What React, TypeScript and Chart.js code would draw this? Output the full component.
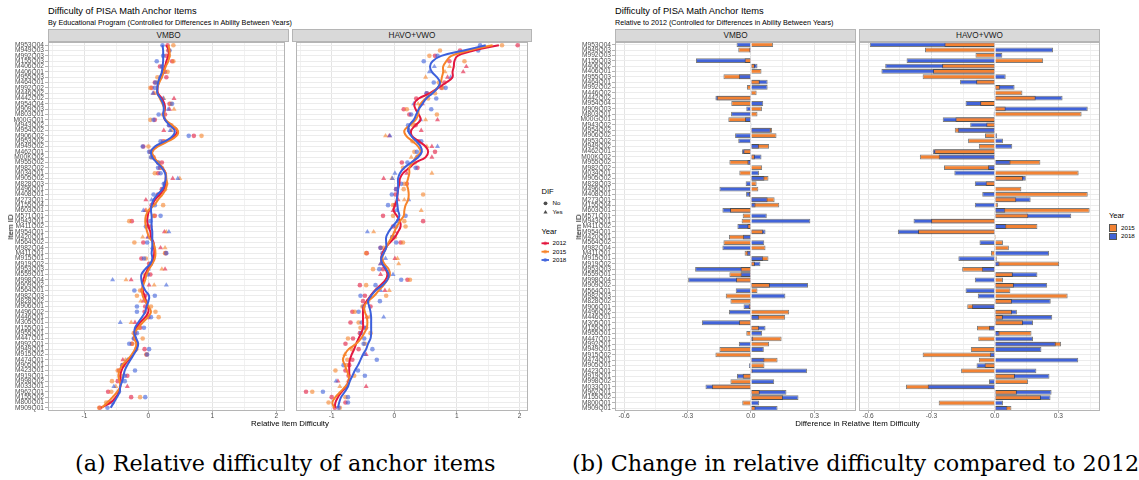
import React, { useEffect, useRef } from "react";
import { Chart, registerables } from "chart.js";
Chart.register(...registerables);

const items = [
  "M953Q04","M949Q03","M992Q03","M155Q03","M406Q02","M406Q01","M955Q03","M464Q01","M992Q02","M446Q02",
  "M442Q02","M954Q04","M909Q03","M803Q01","M00GQ01","M943Q02","M954Q02","M906Q02","M953Q02","M949Q02",
  "M462Q01","M00KQ02","M955Q02","M982Q02","M034Q01","M905Q02","M828Q03","M496Q01","M408Q01","M273Q01",
  "M155Q04","M603Q01","M571Q01","M943Q01","M411Q02","M954Q01","M420Q01","M564Q02","M982Q04","M411Q01",
  "M915Q01","M919Q02","M953Q03","M559Q01","M998Q04","M909Q02","M564Q01","M982Q03","M828Q02","M906Q01",
  "M496Q02","M446Q01","M305Q01","M155Q01","M955Q01","M447Q01","M992Q01","M949Q01","M915Q02","M474Q01",
  "M905Q01","M423Q01","M919Q01","M998Q02","M033Q01","M962Q01","M155Q02","M800Q01","M909Q01"
];

// ---- Figure (a): smoothed relative difficulty (lines) ----
const vmboLine2012 = [.28,.32,.31,.28,.26,.23,.19,.16,.14,.15, .21,.25,.26,.24,.26,.36,.45,.41,.28,.13, .05,.08,.14,.22,.27,.27,.27,.24,.18,.10, .06,.01,-.01,-.02,.00,.03,.04,.08,.09,.09, .08,.05,-.01,-.05,-.08,-.09,-.09,-.06,-.04,-.01, .00,-.05,-.13,-.19,-.22,-.21,-.18,-.19,-.24,-.31, -.38,-.42,-.44,-.43,-.44,-.46,-.51,-.59,-.74];
const vmboLine2015 = [.31,.33,.33,.31,.27,.24,.21,.17,.14,.14, .18,.22,.25,.24,.27,.37,.46,.44,.31,.15, .06,.09,.15,.22,.27,.28,.29,.27,.22,.15, .09,.00,-.04,-.05,-.04,-.02,.01,.07,.10,.11, .10,.06,.01,-.03,-.05,-.08,-.10,-.09,-.05,.00, .04,-.01,-.09,-.16,-.22,-.22,-.19,-.21,-.26,-.33, -.41,-.45,-.47,-.45,-.44,-.49,-.56,-.64,-.73];
const vmboLine2018 = [.22,.23,.23,.23,.22,.21,.18,.15,.14,.14, .19,.23,.24,.23,.26,.33,.41,.38,.26,.10, .04,.06,.13,.21,.26,.27,.25,.22,.14,.08, .05,.04,.05,.05,.05,.06,.06,.06,.06,.05, .06,.03,-.05,-.11,-.11,-.09,-.05,.01,.00,-.03, -.05,-.10,-.16,-.21,-.22,-.19,-.16,-.18,-.23,-.28, -.33,-.37,-.39,-.41,-.44,-.45,-.49,-.54,-.59];

const havoLine2012 = [1.67,1.27,1.01,.96,.95,.93,.93,.83,.70,.57, .39,.32,.34,.39,.42,.34,.27,.28,.39,.50, .54,.50,.34,.24,.14,.09,.08,.06,.05,.04, .01,-.01,.04,.09,.10,.06,.01,-.07,-.14,-.19, -.21,-.19,-.14,-.11,-.14,-.22,-.31,-.38,-.44,-.49, -.50,-.50,-.50,-.50,-.53,-.57,-.61,-.64,-.68,-.71, -.72,-.72,-.72,-.73,-.77,-.84,-.90,-.94,-.95];
const havoLine2015 = [1.57,1.19,.91,.83,.78,.78,.76,.74,.69,.60, .50,.42,.39,.38,.34,.25,.16,.19,.29,.38, .42,.35,.29,.24,.24,.22,.20,.22,.23,.22, .18,.16,.15,.09,.04,.00,-.04,-.09,-.13,-.17, -.19,-.16,-.09,-.07,-.11,-.17,-.25,-.32,-.42,-.48, -.47,-.44,-.43,-.44,-.48,-.53,-.61,-.73,-.79,-.82, -.79,-.76,-.73,-.72,-.78,-.86,-.94,-.99,-.96];
const havoLine2018 = [1.46,1.11,.75,.61,.57,.60,.68,.73,.69,.61, .51,.45,.39,.35,.31,.24,.22,.27,.35,.42, .44,.38,.27,.16,.09,.06,.06,.06,.05,.04, .05,.06,.08,.04,-.03,-.09,-.13,-.13,-.13,-.17, -.21,-.19,-.13,-.09,-.11,-.19,-.30,-.37,-.42,-.40, -.38,-.37,-.37,-.37,-.37,-.38,-.42,-.45,-.50,-.54, -.58,-.63,-.67,-.71,-.74,-.79,-.85,-.88,-.90];

// ---- Figure (a): item estimates (points) ----
const vmboPts2012 = [.30,.31,.28,.37,.18,.26,.28,.10,.05,.08, .40,.33,.33,.26,.10,.33,.24,.71,.23,-.08, .03,.08,.21,.18,.15,.38,.26,.21,.15,-.04, .05,-.05,.10,-.26,.03,.25,-.01,-.08,.19,.27, -.11,.01,.26,.03,-.27,.01,-.10,-.05,-.08,-.05, -.06,.00,-.21,-.13,-.21,-.22,-.26,-.06,-.03,-.40, -.40,-.46,-.33,-.48,-.33,-.63,-.27,-.62,-.76];
const vmboPts2015 = [.39,.32,.32,.39,.23,.30,.14,.14,.03,.10, .24,.35,.40,.23,.03,.36,.36,.83,.26,.00, .04,.05,.15,.21,.10,.49,.28,.26,.19,.10, .23,-.03,.08,-.30,-.01,.28,-.09,-.22,.26,.26, -.04,.03,.21,-.05,-.35,.09,-.13,-.18,-.12,.04, .11,.16,-.27,-.15,-.23,-.09,-.25,-.19,-.03,-.36, -.37,-.48,-.42,-.57,-.51,-.58,-.13,-.66,-.77];
const vmboPts2018 = [.22,.33,.23,.13,.21,.23,.19,.11,.10,.07, .23,.37,.31,.16,.08,.32,.34,.63,.19,-.09, .01,.04,.15,.15,.19,.46,.24,.23,.08,.05, .10,-.08,.19,.03,-.04,.32,.00,-.02,.06,.28, -.07,.04,.00,-.01,-.56,.28,-.22,.10,-.03,-.18, -.18,.04,-.44,-.07,-.18,-.23,-.30,.01,-.02,-.33, -.41,-.21,-.37,-.37,-.54,-.46,-.05,-.56,-.64];

const havoPts2012 = [1.97,1.05,.65,.88,1.15,1.10,.85,.80,.75,.52, .35,.45,.15,.24,.69,.34,.43,-.08,.39,.60, .65,.60,.12,.37,.20,-.17,.20,.03,.02,.06, .01,-.02,-.18,.46,-.02,.01,-.03,.10,-.22,-.44, .01,-.22,-.18,-.22,.21,-.55,-.15,-.47,-.50,-.38, -.67,-.44,-.70,-.45,-.55,-.66,-.78,-.57,-.45,-.67, -.72,-.78,-.73,-.90,-.45,-1.41,-1.00,-.78,-.95];
const havoPts2015 = [1.72,.73,.56,1.12,.88,.81,.50,.71,.77,.65, .54,.38,.20,.68,.50,.30,.24,-.14,.29,.52, .32,.27,.33,.14,.60,-.04,.16,.15,.46,.16, -.02,.43,-.02,.16,.18,-.33,.01,.14,-.17,-.45, .05,.07,-.34,-.09,.25,-.45,-.08,-.13,-.42,-.51, -.63,-.40,-.57,-.54,-.38,-.74,-.47,-.68,-.79,-.75, -.77,-.94,-.64,-.74,-.87,-1.31,-.78,-1.05,-.87];
const havoPts2018 = [1.37,1.34,.69,.47,.64,.56,.90,.63,.82,.515, .67,.31,.59,.27,.42,.22,.24,-.07,.43,.69, .36,.35,.21,.34,.01,-.03,.11,.03,-.04,.23, -.10,.03,.18,.06,.03,-.43,-.03,.03,-.22,-.19, -.14,-.22,-.24,-.02,.11,-.30,-.22,-.54,-.23,-.49, -.57,-.17,-.52,-.48,-.53,-.48,-.49,-.35,-.47,-.28, -.81,-.58,-.47,-.93,-.77,-1.14,-.74,-.74,-.89];

// DIF flag (1 = Yes / triangle)
const vmboDif = [0,0,0,0,0,0,0,0,0,1, 1,0,1,0,0,0,1,0,0,0, 0,0,0,0,0,1,0,0,0,1, 0,1,0,0,0,1,1,0,1,0, 0,0,1,0,1,1,0,0,1,0, 0,0,1,0,0,0,0,0,0,1, 0,0,0,0,1,0,0,0,0];
const havoDif = [0,0,0,0,1,1,1,0,0,0, 0,1,0,0,1,0,1,1,0,1, 0,1,0,0,1,1,0,0,0,1, 0,1,0,0,0,1,0,0,0,0, 1,1,0,1,0,0,1,0,0,0, 0,1,0,0,0,0,0,0,1,0, 0,0,0,1,1,0,0,0,0];

// ---- Figure (b): difference relative to 2012 ----
const vmboDiff2015 = [.105,-.06,.003,-.03,.019,.05,-.13,.042,-.019,.027, -.162,-.093,.052,.031,-.107,.002,.10,.121,.002,.086, -.036,.019,-.102,.053,-.055,.083,.027,.035,-.009,.112, .134,-.099,-.039,-.044,-.017,.058,-.104,-.13,.069,-.03, .083,.019,-.049,-.102,-.071,.09,.031,-.119,-.097,-.011, .181,.162,-.057,.039,-.022,.145,.086,-.149,-.168,.126, .064,.008,-.039,-.097,-.185,.042,.152,-.041,.022];
const vmboDiff2018 = [-.068,-.008,-.003,-.26,.031,.002,-.057,.079,.079,.005, -.168,.058,-.022,-.094,-.028,.001,.094,-.075,-.06,.038, -.042,.05,-.017,.002,.038,.064,-.025,-.149,-.023,.079, .022,-.135,.075,.281,-.064,.069,-.038,.063,-.135,-.02, .058,.045,-.264,-.049,-.297,.27,-.072,.163,-.004,-.035, -.104,.039,-.232,.069,.053,.011,-.057,.061,-.005,.064, -.009,.265,-.066,.11,-.215,.168,.225,.039,.126];
const havoDiff2015 = [-.239,-.331,-.092,.228,-.25,-.293,-.342,-.089,.025,.13, .193,-.07,.051,.41,-.187,-.041,-.19,-.047,-.127,-.076, -.287,-.355,.215,-.241,.396,.133,-.044,.125,.439,.101, .014,.448,.158,-.302,.201,-.364,.005,.038,.066,-.019, .009,.304,-.155,.085,.038,.09,.073,.344,.081,-.131, .081,.038,.133,-.085,.173,-.079,.313,-.114,-.342,-.076, -.049,-.16,.095,.157,-.421,.104,.218,-.266,.078];
const havoDiff2018 = [-.592,.275,.035,-.418,-.519,-.537,.051,-.165,.093,-.005, .32,-.139,.439,-.006,-.247,-.117,-.176,.01,.038,.082, -.294,-.266,.074,-.033,-.192,.146,-.095,.002,-.06,.169, -.095,.049,.361,-.385,.054,-.459,-.003,-.073,-.004,.256, -.173,.022,-.062,.201,-.095,.247,-.139,-.081,.264,-.109, .104,.271,.18,-.028,.022,.18,.288,.22,-.024,.394, -.087,.196,.258,-.028,-.318,.268,.263,.038,.059];

const FONT = "'Liberation Sans', Arial, Helvetica, sans-serif";
const SERIF = "'DejaVu Serif', 'Liberation Serif', serif";
const RED = "#E3173E", ORANGE = "#F7832A", BLUE = "#3D60DC";
const RED_A = "rgba(227,23,62,0.6)", ORANGE_A = "rgba(247,131,42,0.6)", BLUE_A = "rgba(61,96,220,0.6)";
const BAR_ORANGE = "#F28233", BAR_BLUE = "#4163D8";
const AXIS_TXT = "#4d4d4d";
const TICK_COL = "#b3b3b3";

const PAD_TOP = 6;
const CANVAS_TOP = 36;
const CANVAS_H = 389; // 6 pad + 369 panel + 14 axis

const panelBorder = {
  id: "panelBorder",
  afterDraw(chart: any) {
    const { ctx, chartArea: a } = chart;
    ctx.save();
    ctx.strokeStyle = "#b5b5b5";
    ctx.lineWidth = 1;
    ctx.strokeRect(Math.round(a.left) + 0.5, Math.round(a.top) + 0.5, Math.round(a.right - a.left) - 1, Math.round(a.bottom - a.top) - 1);
    ctx.restore();
  },
};

function xScale(min: number, max: number, step: number, isMajor: (v: number) => boolean, fmt: (v: number) => string) {
  return {
    type: "linear",
    min, max,
    afterFit: (s: any) => { s.height = 14; },
    ticks: {
      stepSize: step, includeBounds: false, maxRotation: 0, autoSkip: false,
      font: { family: FONT, size: 6.6 }, color: AXIS_TXT, padding: -1,
      callback: (v: number) => (isMajor(v) ? fmt(v) : ""),
    },
    grid: {
      color: (c: any) => (c.tick && isMajor(c.tick.value) ? "#e4e4e4" : "#f1f1f1"),
      tickColor: (c: any) => (c.tick && isMajor(c.tick.value) ? TICK_COL : "rgba(0,0,0,0)"),
      tickLength: 2, lineWidth: 1,
    },
    border: { display: false },
  };
}

const majA = (v: number) => Math.abs(v - Math.round(v)) < 1e-6;
const fmtA = (v: number) => String(Math.round(v));
const majB = (v: number) => Math.round(v / 0.15) % 2 === 0;
const fmtB = (v: number) => (Math.round(v / 0.15) * 0.15).toFixed(1);

function yTicks(show: boolean) {
  return {
    display: show, autoSkip: false, font: { family: FONT, size: 6.6 }, color: AXIS_TXT, padding: 1,
  };
}

function scatterConfig(l12: number[], l15: number[], l18: number[], p12: number[], p15: number[], p18: number[], dif: number[], showY: boolean) {
  const xy = (vals: number[]) => vals.map((v, i) => ({ x: v, y: i }));
  const pts = (vals: number[], col: string) => ({
    data: xy(vals), showLine: false, backgroundColor: col, borderWidth: 0,
    pointStyle: dif.map((d) => (d ? "triangle" : "circle")),
    pointRadius: dif.map((d) => (d ? 2.9 : 2.3)), order: 5,
  });
  const ln = (vals: number[], col: string, order: number) => ({
    data: xy(vals), showLine: true, borderColor: col, borderWidth: 2, pointRadius: 0, tension: 0.4, fill: false, order,
  });
  return {
    type: "scatter",
    data: { datasets: [ln(l18, BLUE, 0), ln(l15, ORANGE, 1), ln(l12, RED, 2), pts(p18, BLUE_A), pts(p15, ORANGE_A), pts(p12, RED_A)] },
    options: {
      responsive: false, animation: false, devicePixelRatio: 1, events: [],
      layout: { padding: { top: PAD_TOP, left: 0, right: 0, bottom: 0 } },
      plugins: { legend: { display: false }, tooltip: { enabled: false } },
      scales: {
        x: xScale(-1.57, 2.135, 0.5, majA, fmtA),
        y: {
          type: "linear", min: -0.6, max: 68.6, reverse: true,
          afterFit: (s: any) => { s.width = showY ? 38 : 0; },
          ticks: { ...yTicks(showY), stepSize: 1, includeBounds: false, maxTicksLimit: 200, callback: (v: number) => items[v] ?? "" },
          grid: { color: "#ececec", lineWidth: 1, drawTicks: showY, tickLength: 3, tickColor: TICK_COL },
          border: { display: false },
        },
      },
    },
    plugins: [panelBorder],
  };
}

function barConfig(d15: number[], d18: number[], showY: boolean) {
  const big = d15.map((v, i) => Math.abs(v) >= Math.abs(d18[i]));
  const common = { borderColor: "rgba(55,55,55,0.65)", borderWidth: 1, grouped: false, barPercentage: 0.9, categoryPercentage: 1 };
  return {
    type: "bar",
    data: {
      labels: items,
      datasets: [
        { ...common, data: d15.map((v, i) => (big[i] ? d18[i] : v)), backgroundColor: big.map((b) => (b ? BAR_BLUE : BAR_ORANGE)), order: 0 },
        { ...common, data: d15.map((v, i) => (big[i] ? v : d18[i])), backgroundColor: big.map((b) => (b ? BAR_ORANGE : BAR_BLUE)), order: 1 },
      ],
    },
    options: {
      indexAxis: "y", responsive: false, animation: false, devicePixelRatio: 1, events: [],
      layout: { padding: { top: PAD_TOP, left: 0, right: 0, bottom: 0 } },
      plugins: { legend: { display: false }, tooltip: { enabled: false } },
      scales: {
        x: xScale(-0.643, 0.497, 0.15, majB, fmtB),
        y: {
          type: "category", offset: true,
          afterFit: (s: any) => { s.width = showY ? 38 : 0; },
          ticks: yTicks(showY),
          grid: { offset: false, color: "#ececec", lineWidth: 1, drawTicks: showY, tickLength: 3, tickColor: TICK_COL },
          border: { display: false },
        },
      },
    },
    plugins: [panelBorder],
  };
}

function T(props: { x: number; y: number; size: number; children: any; anchor?: string; color?: string; rotate?: boolean; family?: string }) {
  const { x, y, size, children, anchor = "start", color = "#000", rotate = false, family = FONT } = props;
  const tx = anchor === "middle" || rotate ? "-50%" : "0";
  return (
    <div style={{
      position: "absolute", left: x, top: y, fontSize: size, fontFamily: family, color, lineHeight: 1, whiteSpace: "nowrap",
      transform: `translate(${tx}, -50%)${rotate ? " rotate(-90deg)" : ""}`,
    }}>{children}</div>
  );
}

function Strip({ x1, x2, label }: { x1: number; x2: number; label: string }) {
  return (
    <div style={{
      position: "absolute", left: x1, top: 29, width: x2 - x1, height: 13, boxSizing: "border-box",
      background: "#d9d9d9", border: "1px solid #b5b5b5", fontFamily: FONT, fontSize: 8.2, color: "#1a1a1a",
      textAlign: "center", lineHeight: "11px",
    }}>{label}</div>
  );
}

export default function App() {
  const a1 = useRef<HTMLCanvasElement>(null);
  const a2 = useRef<HTMLCanvasElement>(null);
  const b1 = useRef<HTMLCanvasElement>(null);
  const b2 = useRef<HTMLCanvasElement>(null);

  useEffect(() => {
    Chart.defaults.font.family = FONT;
    const charts = [
      new Chart(a1.current as any, scatterConfig(vmboLine2012, vmboLine2015, vmboLine2018, vmboPts2012, vmboPts2015, vmboPts2018, vmboDif, true) as any),
      new Chart(a2.current as any, scatterConfig(havoLine2012, havoLine2015, havoLine2018, havoPts2012, havoPts2015, havoPts2018, havoDif, false) as any),
      new Chart(b1.current as any, barConfig(vmboDiff2015, vmboDiff2018, true) as any),
      new Chart(b2.current as any, barConfig(havoDiff2015, havoDiff2018, false) as any),
    ];
    return () => charts.forEach((c) => c.destroy());
  }, []);

  const cv = (ref: any, left: number, width: number) => (
    <canvas ref={ref} width={width} height={CANVAS_H} style={{ position: "absolute", left, top: CANVAS_TOP, width, height: CANVAS_H }} />
  );

  return (
    <div style={{ position: "absolute", left: 0, top: 0, width: 1139, height: 480, background: "#fff", overflow: "hidden" }}>
      {/* Figure (a) */}
      <T x={48} y={12} size={9.3}>Difficulty of PISA Math Anchor Items</T>
      <T x={48} y={23} size={7.2}>By Educational Program (Controlled for Differences in Ability Between Years)</T>
      <Strip x1={48} x2={289} label="VMBO" />
      <Strip x1={292} x2={532} label="HAVO+VWO" />
      {cv(a1, 10, 279)}
      {cv(a2, 292, 240)}
      <T x={11} y={227} size={7.9} rotate>Item ID</T>
      <T x={290} y={423.5} size={7.9} anchor="middle">Relative Item Difficulty</T>

      <T x={541.5} y={192} size={7.6}>DIF</T>
      <T x={552.5} y={203.3} size={6.2}>No</T>
      <T x={552.5} y={212.3} size={6.2}>Yes</T>
      <T x={541.5} y={231.7} size={7.6}>Year</T>
      <T x={552.5} y={243.3} size={6.2}>2012</T>
      <T x={552.5} y={251.7} size={6.2}>2015</T>
      <T x={552.5} y={260} size={6.2}>2018</T>
      <svg style={{ position: "absolute", left: 538, top: 196, width: 14, height: 70 }} width={14} height={70}>
        <circle cx={7.5} cy={7.3} r={1.9} fill="#4d4d4d" />
        <polygon points="7.5,13.9 9.6,17.6 5.4,17.6" fill="#4d4d4d" />
        <line x1={3.5} x2={11} y1={47.3} y2={47.3} stroke={RED} strokeWidth={1.8} />
        <circle cx={7.2} cy={47.3} r={1.9} fill={RED_A} />
        <line x1={3.5} x2={11} y1={55.7} y2={55.7} stroke={ORANGE} strokeWidth={1.8} />
        <circle cx={7.2} cy={55.7} r={1.9} fill={ORANGE_A} />
        <line x1={3.5} x2={11} y1={64} y2={64} stroke={BLUE} strokeWidth={1.8} />
        <circle cx={7.2} cy={64} r={1.9} fill={BLUE_A} />
      </svg>

      {/* Figure (b) */}
      <T x={615} y={12} size={9.3}>Difficulty of PISA Math Anchor Items</T>
      <T x={615} y={23} size={7.2}>Relative to 2012 (Controlled for Differences in Ability Between Years)</T>
      <Strip x1={615} x2={856} label="VMBO" />
      <Strip x1={859} x2={1100} label="HAVO+VWO" />
      {cv(b1, 577, 279)}
      {cv(b2, 859, 241)}
      <T x={579} y={227} size={7.9} rotate>Item ID</T>
      <T x={857.5} y={423.5} size={7.9} anchor="middle">Difference in Relative Item Difficulty</T>

      <T x={1109} y={216} size={7.6}>Year</T>
      <div style={{ position: "absolute", left: 1109, top: 224, width: 8, height: 7.5, boxSizing: "border-box", background: BAR_ORANGE, border: "1px solid #555" }} />
      <div style={{ position: "absolute", left: 1109, top: 232.5, width: 8, height: 7.5, boxSizing: "border-box", background: BAR_BLUE, border: "1px solid #555" }} />
      <T x={1121} y={227.8} size={6.2}>2015</T>
      <T x={1121} y={236.3} size={6.2}>2018</T>

      {/* Captions */}
      <T x={75} y={463} size={22.3} family={SERIF}>(a) Relative difficulty of anchor items</T>
      <T x={572} y={463} size={22.3} family={SERIF}>(b) Change in relative difficulty compared to 2012</T>
    </div>
  );
}
